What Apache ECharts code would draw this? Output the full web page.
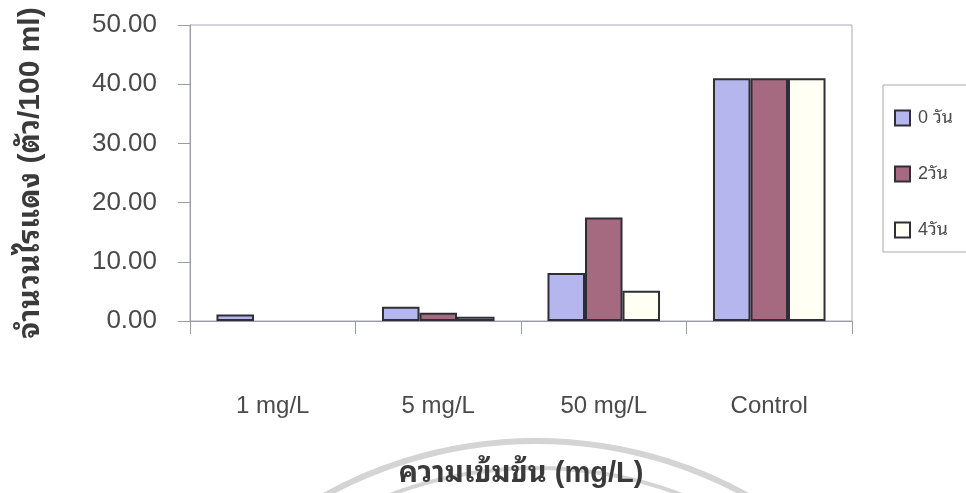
<!DOCTYPE html>
<html>
<head>
<meta charset="utf-8">
<script src="https://cdn.jsdelivr.net/npm/echarts@6/dist/echarts.min.js"></script>
<style>
  html, body { margin: 0; padding: 0; background: #fff; }
  #chart { width: 966px; height: 493px; }
</style>
</head>
<body>
<div id="chart"></div>
<script>
// Categories (concentration) and counts per day
const categories = ['1 mg/L', '5 mg/L', '50 mg/L', 'Control'];
const seriesNames = ['0 วัน', '2วัน', '4วัน'];
const day0 = [1.1, 2.4, 8.1, 41.0];
const day2 = [0, 1.4, 17.5, 41.0];
const day4 = [0, 0.7, 5.1, 41.0];
const yTicks = { min: 0, max: 50, interval: 10 };

const FONT = '"Liberation Sans", Arial, sans-serif';
const THAI_FONT = '"Liberation Sans", "Noto Sans Thai Looped", "Loma", "Garuda", "Noto Sans Thai", sans-serif';

const fills = ['#b6b6ef', '#a66a80', '#fffff4'];

function barData(values) {
  // zero-height bars are not outlined
  return values.map(v => v === 0 ? { value: 0, itemStyle: { borderWidth: 0 } } : v);
}

const chart = echarts.init(document.getElementById('chart'), null, { renderer: 'canvas' });

chart.setOption({
  backgroundColor: '#ffffff',
  animation: false,
  textStyle: { fontFamily: FONT },
  grid: {
    left: 190, top: 25, width: 662, height: 297,
    show: true, borderColor: '#a9a9b8', borderWidth: 1, backgroundColor: 'transparent'
  },
  legend: {
    orient: 'vertical',
    left: 883, top: 85,
    padding: [24, 60, 13, 11],
    itemGap: 38,
    itemWidth: 15, itemHeight: 15,
    icon: 'rect',
    borderColor: '#a9a9a9', borderWidth: 1,
    textStyle: { fontSize: 18, color: '#4a4a4a', fontFamily: THAI_FONT, padding: [0, 0, 0, 3] },
    data: seriesNames
  },
  xAxis: {
    type: 'category',
    data: categories,
    axisLine: { lineStyle: { color: '#9a9aa8', width: 1 } },
    axisTick: { show: true, length: 13, lineStyle: { color: '#9a9aa8' } },
    axisLabel: { margin: 73, fontSize: 24, color: '#4a4a4a', fontFamily: FONT },
    name: 'ความเข้มข้น (mg/L)',
    nameLocation: 'middle',
    nameGap: 138,
    nameTextStyle: { fontSize: 29, fontWeight: 'bold', color: '#3a3a3a', fontFamily: THAI_FONT }
  },
  yAxis: {
    type: 'value',
    min: yTicks.min, max: yTicks.max, interval: yTicks.interval,
    axisLine: { show: true, lineStyle: { color: '#9a9aa8', width: 1 } },
    axisTick: { show: true, length: 12, lineStyle: { color: '#9a9aa8' } },
    splitLine: { show: false },
    axisLabel: {
      margin: 33, fontSize: 26, color: '#4a4a4a', fontFamily: FONT,
      formatter: v => v.toFixed(2)
    },
    name: 'จำนวนไรแดง (ตัว/100 ml)',
    nameLocation: 'middle',
    nameRotate: 90,
    nameGap: 144,
    nameTextStyle: { fontSize: 30, fontWeight: 'bold', color: '#3a3a3a', fontFamily: THAI_FONT }
  },
  series: [day0, day2, day4].map((vals, i) => ({
    name: seriesNames[i],
    type: 'bar',
    data: barData(vals),
    barGap: '0%',
    barCategoryGap: '32%',
    itemStyle: { color: fills[i], borderColor: '#2e2e36', borderWidth: 2 }
  })),
  graphic: [
    {
      type: 'arc', silent: true, z: -10,
      shape: { cx: 536, cy: 878, r: 437, startAngle: -Math.PI / 2 - 0.6, endAngle: -Math.PI / 2 + 0.6 },
      style: { fill: 'none', stroke: '#d4d4d4', lineWidth: 6 }
    },
    {
      type: 'arc', silent: true, z: -10,
      shape: { cx: 536, cy: 878, r: 410, startAngle: -Math.PI / 2 - 0.6, endAngle: -Math.PI / 2 + 0.6 },
      style: { fill: 'none', stroke: '#d4d4d4', lineWidth: 4 }
    }
  ]
});
</script>
</body>
</html>
